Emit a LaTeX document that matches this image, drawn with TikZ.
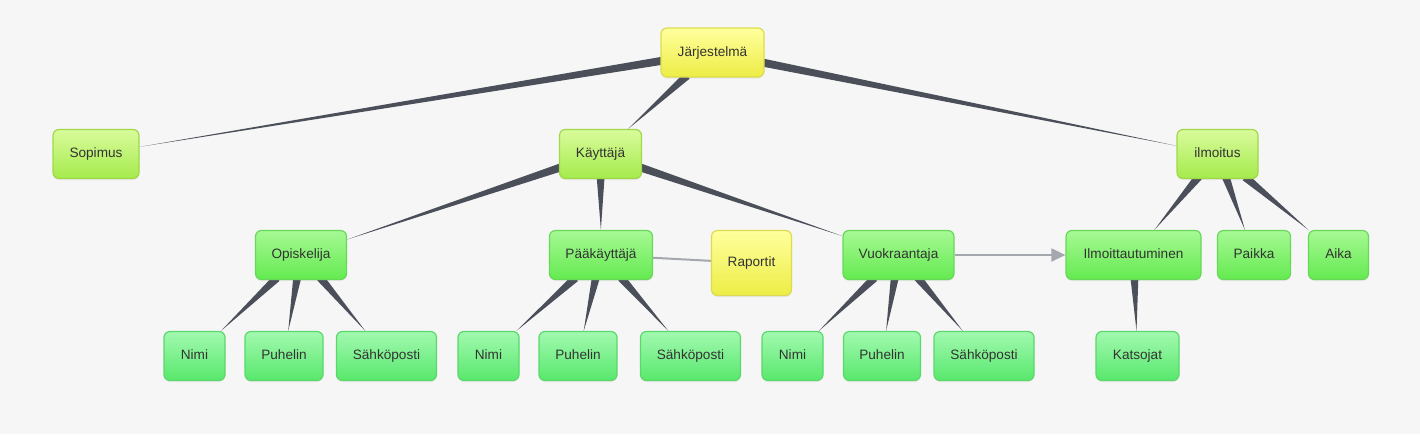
\documentclass[tikz,border=0pt]{standalone}
\usepackage{fontspec}
\setmainfont{Liberation Sans}
\usetikzlibrary{calc,arrows.meta,shadows}
\pgfdeclarelayer{bg}
\pgfsetlayers{bg,main}
\definecolor{paper}{HTML}{F6F6F6}
\definecolor{wire}{HTML}{4B4F5A}
\definecolor{link}{HTML}{A4A7AD}
\definecolor{ink}{HTML}{333333}
\definecolor{mintline}{HTML}{5AD86A}
\definecolor{minttop}{HTML}{A2F9B0}
\definecolor{mintbot}{HTML}{58E86C}
\definecolor{greenline}{HTML}{68D85A}
\definecolor{greentop}{HTML}{A6F994}
\definecolor{greenbot}{HTML}{64EA50}
\definecolor{limeline}{HTML}{A0D84A}
\definecolor{limetop}{HTML}{DAFB9C}
\definecolor{limebot}{HTML}{A4EB4C}
\definecolor{sunline}{HTML}{DCDC50}
\definecolor{suntop}{HTML}{FFFF9E}
\definecolor{sunbot}{HTML}{EDED45}
\tikzset{
  box/.style={draw, rounded corners=6pt, line width=1.2pt, text=ink,
    font=\fontsize{13.6}{15}\selectfont, minimum height=49pt, inner sep=0pt,
    text height=9.5pt, text depth=2.5pt,
    drop shadow={opacity=0.12, shadow xshift=0pt, shadow yshift=-1.5pt}},
  mintbox/.style={box, draw=mintline, top color=minttop, bottom color=mintbot},
  greenbox/.style={box, draw=greenline, top color=greentop, bottom color=greenbot},
  limebox/.style={box, draw=limeline, top color=limetop, bottom color=limebot},
  sunbox/.style={box, draw=sunline, top color=suntop, bottom color=sunbot},
  linkline/.style={draw=link, line width=2pt},
}
\begin{document}
\begin{tikzpicture}[x=1pt,y=-1pt]
\useasboundingbox (0,0) rectangle (1420,434);

% top
\node[sunbox, minimum width=103pt] (jar) at (712.5,52.5) {Järjestelmä};

% second row
\node[limebox, minimum width=86pt] (sop) at (96,154) {Sopimus};
\node[limebox, minimum width=82pt] (kay) at (600.5,154) {Käyttäjä};
\node[limebox, minimum width=81pt] (ilm) at (1217.5,154) {ilmoitus};

% third row
\node[greenbox, minimum width=91pt] (opi) at (301,255) {Opiskelija};
\node[greenbox, minimum width=103pt] (paa) at (601,255) {Pääkäyttäjä};
\node[sunbox, minimum width=80pt, minimum height=65pt] (rap) at (751.5,263) {Raportit};
\node[greenbox, minimum width=111pt] (vuo) at (898.5,255) {Vuokraantaja};
\node[greenbox, minimum width=135pt] (ilt) at (1133.5,255) {Ilmoittautuminen};
\node[greenbox, minimum width=73pt] (pai) at (1254,255) {Paikka};
\node[greenbox, minimum width=60pt] (aik) at (1338.5,255) {Aika};

% bottom row
\node[mintbox, minimum width=61pt] (nim1) at (194.5,356) {Nimi};
\node[mintbox, minimum width=78pt] (puh1) at (284,356) {Puhelin};
\node[mintbox, minimum width=100pt] (sah1) at (386.5,356) {Sähköposti};
\node[mintbox, minimum width=61pt] (nim2) at (488.5,356) {Nimi};
\node[mintbox, minimum width=78pt] (puh2) at (578,356) {Puhelin};
\node[mintbox, minimum width=100pt] (sah2) at (690.5,356) {Sähköposti};
\node[mintbox, minimum width=61pt] (nim3) at (792.5,356) {Nimi};
\node[mintbox, minimum width=77pt] (puh3) at (882,356) {Puhelin};
\node[mintbox, minimum width=100pt] (sah3) at (984,356) {Sähköposti};
\node[mintbox, minimum width=83pt] (kat) at (1137.5,356) {Katsojat};

\begin{pgfonlayer}{bg}
\fill[paper] (0,0) rectangle (1420,434);
% tapered links, wide at the parent
\foreach \p/\c in {jar/sop,jar/kay,jar/ilm,kay/opi,kay/paa,kay/vuo,
    opi/nim1,opi/puh1,opi/sah1,paa/nim2,paa/puh2,paa/sah2,
    vuo/nim3,vuo/puh3,vuo/sah3,ilm/ilt,ilm/pai,ilm/aik,ilt/kat}{
  \path (\p) -- (\c) coordinate[pos=0] (s) coordinate[pos=1] (e);
  \coordinate (s0) at ($(s)!-3pt!(e)$);
  \fill[wire] ($(s0)!4pt!90:(e)$) -- ($(s0)!4pt!-90:(e)$) -- (e) -- cycle;
}
\draw[linkline] (paa) -- (rap);
\draw[linkline,-{Triangle[length=14pt,width=13pt]}] (vuo) -- (ilt);
\end{pgfonlayer}
\end{tikzpicture}
\end{document}
